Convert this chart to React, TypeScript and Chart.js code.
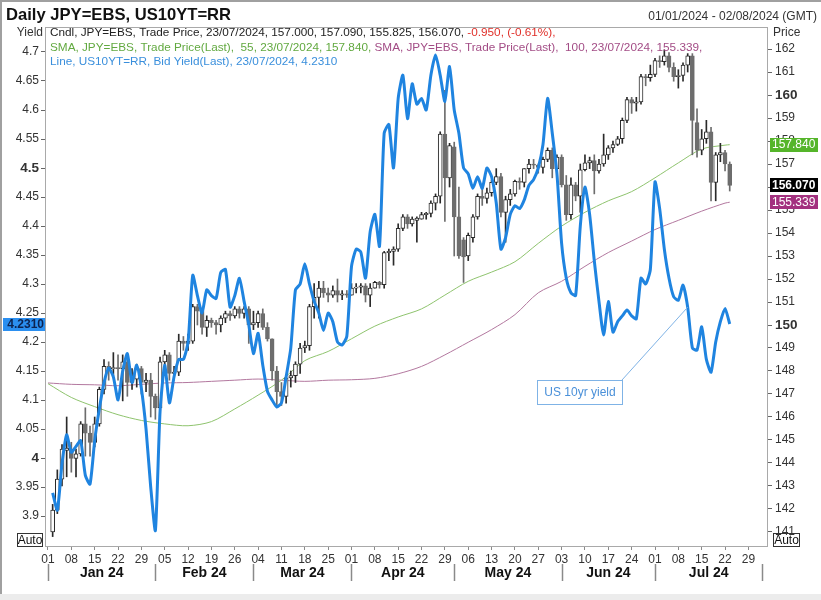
import React, { useEffect, useRef } from "react";
import { Chart, registerables } from "chart.js";
Chart.register(...registerables);

const FONT = "'Liberation Sans', Arial, sans-serif";

// Business-day index 0 = Mon 01 Jan 2024 ... 146 = Tue 23 Jul 2024
const opens = [
  null, 141.0, 141.95, 143.3, 144.55,
  144.6, 144.2, 144.4, 145.7, 145.3,
  144.9, 145.7, 147.2, 148.2, 148.1,
  148.15, 148.1, 148.4, 147.5, 147.65,
  148.1, 147.5, 147.6, 146.9, 146.4,
  148.4, 148.7, 147.9, 147.95, 149.3,
  149.2, 149.3, 150.8, 150.6, 149.9,
  150.2, 150.1, 150.0, 150.3, 150.5,
  150.4, 150.7, 150.5, 150.7, 150.0,
  150.1, 150.5, 149.9, 149.4, 148.0,
  147.1, 146.9, 147.7, 147.8, 148.3,
  149.0, 149.1, 150.8, 151.2, 151.6,
  151.4, 151.3, 151.5, 151.3, 151.35,
  151.3, 151.6, 151.65, 151.7, 151.3,
  151.6, 151.85, 151.75, 153.15, 153.2,
  153.3, 154.2, 154.7, 154.4, 154.55,
  154.6, 154.8, 154.85, 155.3, 155.6,
  158.3, 156.4, 157.75, 154.7, 153.7,
  153.0, 153.8, 154.7, 155.6, 155.5,
  155.75, 156.2, 156.45, 154.9, 155.45,
  155.7, 156.25, 156.2, 156.8, 157.0,
  156.95, 156.85, 157.2, 157.6, 156.8,
  157.3, 156.1, 154.8, 156.1, 155.6,
  156.75, 157.05, 157.15, 156.7, 157.0,
  157.4, 157.7, 157.85, 158.1, 158.9,
  159.8, 159.65, 159.7, 160.8, 160.75,
  160.9, 161.5, 161.45, 161.7, 161.2,
  160.8, 160.85, 161.3, 161.7, 158.8,
  157.6, 158.1, 158.4, 156.2, 157.4,
  157.5, 157.0,
];
const highs = [
  null, 142.2, 143.7, 144.8, 146.0,
  144.9, 144.6, 145.8, 146.4, 145.6,
  146.0, 147.3, 148.5, 148.4, 148.8,
  148.7, 148.7, 148.5, 148.1, 148.3,
  148.2, 147.9, 147.9, 147.0, 148.6,
  148.9, 148.8, 148.2, 149.6, 149.5,
  149.6, 150.9, 150.9, 150.7, 150.4,
  150.3, 150.2, 150.4, 150.6, 150.6,
  150.8, 150.8, 150.8, 150.8, 150.6,
  150.6, 150.7, 150.1, 149.4, 148.2,
  147.5, 147.8, 148.0, 148.4, 149.2,
  149.3, 150.9, 151.8, 151.9, 151.9,
  151.6, 151.7, 152.0, 151.5, 151.5,
  151.8, 151.8, 151.8, 151.8, 151.8,
  151.9, 151.9, 153.2, 153.3, 153.4,
  154.4, 154.8, 154.8, 154.7, 154.7,
  154.9, 154.9, 155.4, 155.7, 158.4,
  160.2, 157.9, 157.95, 156.0, 153.8,
  154.0, 154.8, 155.7, 155.95, 155.95,
  156.3, 156.8, 156.6, 155.6, 155.9,
  156.3, 156.4, 156.8, 157.2, 157.2,
  157.0, 157.3, 157.7, 157.7, 157.4,
  157.4, 156.5, 156.4, 156.2, 157.0,
  157.4, 157.3, 157.4, 157.2, 158.3,
  157.8, 158.0, 158.2, 159.0, 159.9,
  159.9, 159.9, 160.9, 160.9, 161.3,
  161.6, 161.7, 161.95, 161.85, 161.4,
  161.1, 161.4, 161.8, 161.8, 159.4,
  158.5, 158.9, 158.6, 157.5, 157.9,
  157.6, 157.09,
];
const lows = [
  null, 140.8, 141.8, 143.0, 143.4,
  143.6, 143.4, 144.3, 144.3, 144.3,
  144.7, 145.6, 147.0, 147.6, 147.8,
  147.6, 146.7, 146.9, 147.2, 147.3,
  147.0, 147.1, 146.0, 145.9, 145.9,
  148.2, 147.6, 147.6, 147.8, 148.9,
  148.9, 149.2, 150.0, 149.6, 149.5,
  149.9, 149.6, 149.7, 150.1, 150.2,
  150.3, 150.3, 150.3, 149.2, 149.8,
  149.9, 149.8, 149.3, 147.6, 146.5,
  146.5, 146.6, 147.3, 147.5, 147.9,
  148.8, 148.9, 150.3, 150.3, 151.2,
  151.0, 151.2, 151.0, 151.1, 151.2,
  151.3, 151.4, 151.4, 151.0, 150.8,
  151.6, 151.6, 151.6, 152.8, 152.6,
  153.2, 154.1, 154.2, 154.3, 153.6,
  154.6, 154.6, 154.7, 155.0, 155.3,
  154.5, 156.0, 153.0, 152.9, 151.85,
  152.8, 153.6, 154.6, 155.2, 155.3,
  155.6, 156.1, 154.7, 153.6, 155.2,
  155.6, 155.9, 156.0, 156.6, 156.8,
  156.6, 156.6, 157.1, 156.4, 156.4,
  156.0, 154.55, 154.6, 155.4, 154.9,
  156.7, 156.8, 155.7, 156.6, 156.9,
  157.2, 157.5, 157.8, 157.9, 158.8,
  159.2, 159.3, 159.6, 160.4, 160.6,
  160.8, 161.2, 161.3, 161.0, 160.6,
  160.3, 160.6, 161.0, 157.4, 157.3,
  157.4, 157.9, 155.4, 155.4, 157.1,
  156.7, 155.825,
];
const closes = [
  null, 141.95, 143.3, 144.6, 144.65,
  144.2, 144.4, 145.7, 145.3, 144.9,
  145.7, 147.2, 148.2, 148.1, 148.15,
  148.1, 148.4, 147.5, 147.65, 148.1,
  147.5, 147.6, 146.9, 146.4, 148.4,
  148.7, 147.9, 147.95, 149.3, 149.2,
  149.3, 150.8, 150.6, 149.9, 150.2,
  150.1, 150.0, 150.3, 150.5, 150.4,
  150.7, 150.5, 150.7, 150.0, 150.1,
  150.5, 149.9, 149.4, 148.0, 147.1,
  146.9, 147.7, 147.8, 148.3, 149.0,
  149.1, 150.8, 151.2, 151.6, 151.4,
  151.3, 151.5, 151.3, 151.35, 151.3,
  151.6, 151.65, 151.7, 151.3, 151.6,
  151.85, 151.75, 153.15, 153.2, 153.3,
  154.2, 154.7, 154.4, 154.6, 154.65,
  154.8, 154.85, 155.3, 155.6, 158.3,
  156.4, 157.8, 154.7, 153.0, 152.96,
  153.9, 154.7, 155.6, 155.5, 155.75,
  156.2, 156.45, 154.9, 155.45, 155.7,
  156.25, 156.2, 156.8, 157.0, 156.95,
  156.85, 157.2, 157.6, 156.8, 157.3,
  156.1, 154.8, 156.1, 155.6, 156.75,
  157.05, 157.15, 156.7, 157.0, 157.4,
  157.7, 157.85, 158.1, 158.9, 159.8,
  159.65, 159.7, 160.8, 160.75, 160.9,
  161.5, 161.45, 161.7, 161.2, 160.8,
  160.85, 161.3, 161.7, 158.9, 157.6,
  158.1, 158.4, 156.2, 157.4, 157.5,
  157.0, 156.07,
];
const yields = [
  null, 3.94, 3.91, 3.99, 4.04,
  4.01, 4.02, 4.03, 3.97, 3.955,
  4.03, 4.085, 4.13, 4.155, 4.14,
  4.10, 4.15, 4.18, 4.13, 4.16,
  4.12, 4.05, 3.95, 3.875, 4.08,
  4.16, 4.095, 4.14, 4.17, 4.17,
  4.20, 4.315, 4.28, 4.25, 4.29,
  4.28, 4.275, 4.32, 4.325, 4.26,
  4.28, 4.31, 4.27, 4.23, 4.18,
  4.215, 4.16, 4.115, 4.10, 4.088,
  4.095, 4.14, 4.19, 4.29, 4.30,
  4.335, 4.30, 4.27, 4.25, 4.22,
  4.25, 4.235, 4.20, 4.195, 4.21,
  4.33, 4.36, 4.355, 4.31, 4.39,
  4.42, 4.365, 4.56, 4.575, 4.50,
  4.62, 4.66, 4.585, 4.645, 4.61,
  4.62, 4.60, 4.66, 4.695, 4.66,
  4.615, 4.675, 4.60, 4.56, 4.50,
  4.49, 4.465, 4.485, 4.465, 4.50,
  4.485, 4.44, 4.36, 4.38, 4.42,
  4.435, 4.43, 4.445, 4.47, 4.48,
  4.50, 4.54, 4.62, 4.56, 4.49,
  4.37, 4.31, 4.285, 4.28, 4.40,
  4.467, 4.42, 4.34, 4.27, 4.212,
  4.27, 4.217, 4.235, 4.245, 4.255,
  4.245, 4.24, 4.31, 4.30, 4.325,
  4.476, 4.43, 4.36, 4.31, 4.278,
  4.272, 4.298, 4.26, 4.19, 4.186,
  4.226, 4.17, 4.148, 4.20, 4.235,
  4.258, 4.231,
];
const smaIdx = [0, 5, 10, 15, 20, 25, 30, 35, 40, 45, 50, 55, 60, 65, 70, 75, 80, 85, 90, 95, 100, 105, 110, 115, 120, 125, 130, 135, 140, 145, 146];
const sma55 = [147.45, 146.85, 146.45, 146.1, 145.85, 145.7, 145.62, 145.8, 146.35, 146.95, 147.6, 148.45, 148.85, 149.4, 149.95, 150.35, 150.7, 151.3, 151.9, 152.3, 152.75, 153.55, 154.3, 154.9, 155.4, 155.8, 156.4, 157.05, 157.65, 157.82, 157.84];
const sma100 = [147.48, 147.42, 147.4, 147.36, 147.42, 147.48, 147.5, 147.55, 147.6, 147.65, 147.6, 147.55, 147.6, 147.62, 147.68, 147.88, 148.2, 148.7, 149.25, 149.8, 150.45, 151.4, 151.9, 152.55, 153.15, 153.65, 154.15, 154.55, 154.95, 155.3, 155.339];

const weekTickIdx = [0, 5, 10, 15, 20, 25, 30, 35, 40, 45, 50, 55, 60, 65, 70, 75, 80, 85, 90, 95, 100, 105, 110, 115, 120, 125, 130, 135, 140, 145, 150];
const weekTickLabels = ["01", "08", "15", "22", "29", "05", "12", "19", "26", "04", "11", "18", "25", "01", "08", "15", "22", "29", "06", "13", "20", "27", "03", "10", "17", "24", "01", "08", "15", "22", "29"];
const monthLabels = ["Jan 24", "Feb 24", "Mar 24", "Apr 24", "May 24", "Jun 24", "Jul 24"];
const monthStartIdx = [0, 23, 44, 65, 87, 110, 130, 153];
const yieldTicks = [3.9, 3.95, 4, 4.05, 4.1, 4.15, 4.2, 4.25, 4.3, 4.35, 4.4, 4.45, 4.5, 4.55, 4.6, 4.65, 4.7];
const yieldTickLabels = ["3.9", "3.95", "4", "4.05", "4.1", "4.15", "4.2", "4.25", "4.3", "4.35", "4.4", "4.45", "4.5", "4.55", "4.6", "4.65", "4.7"];
const yieldBold = [4, 4.5];
const priceTicks = [141, 142, 143, 144, 145, 146, 147, 148, 149, 150, 151, 152, 153, 154, 155, 156, 157, 158, 159, 160, 161, 162];
const priceTickLabels = priceTicks.map((v) => String(v));
const priceBold = [150, 160];

const LAST_YIELD = 4.231;
const LAST_SMA55 = 157.84;
const LAST_SMA100 = 155.339;
const LAST_CLOSE = 156.07;
const ANNOT_IDX = 137;

const BLUE = "#1f84e0";
const GREEN_LINE = "#8fc46e";
const PURPLE_LINE = "#b3789f";
const DOWN = "#6d6d6d";

function drawSegs(c: CanvasRenderingContext2D, x: number, y: number, segs: [string, string][]) {
  for (const [t, col] of segs) {
    c.fillStyle = col;
    c.fillText(t, x, y);
    x += c.measureText(t).width;
  }
}

function badge(c: CanvasRenderingContext2D, x: number, yc: number, w: number, h: number, bg: string, fg: string, text: string, font: string) {
  c.fillStyle = bg;
  c.fillRect(x, Math.round(yc - h / 2), w, h);
  c.fillStyle = fg;
  c.font = font;
  c.textAlign = "left";
  c.textBaseline = "middle";
  c.fillText(text, x + 2, yc + 0.5);
}

const overlay = {
  id: "overlay",
  beforeDraw(chart: any) {
    const c = chart.ctx;
    c.save();
    c.fillStyle = "#ffffff";
    c.fillRect(0, 0, chart.width, chart.height);
    c.restore();
  },
  afterDraw(chart: any) {
    const c: CanvasRenderingContext2D = chart.ctx;
    const { left, right, top, bottom } = chart.chartArea;
    const xs = chart.scales.x;
    const yl = chart.scales.yL;
    const yr = chart.scales.yR;
    c.save();
    // plot border
    c.strokeStyle = "#a9a9a9";
    c.lineWidth = 1;
    c.strokeRect(left + 0.5, top + 0.5, right - left - 1, bottom - top);

    // title
    c.fillStyle = "#111";
    c.font = `bold 16.6px ${FONT}`;
    c.textAlign = "left";
    c.textBaseline = "middle";
    c.fillText("Daily JPY=EBS, US10YT=RR", 6, 15);
    c.font = `12px ${FONT}`;
    c.textAlign = "right";
    c.fillStyle = "#333";
    c.fillText("01/01/2024 - 02/08/2024 (GMT)", 817, 17);

    // axis titles
    c.font = `12px ${FONT}`;
    c.fillStyle = "#333";
    c.textAlign = "right";
    c.fillText("Yield", 43, 33);
    c.textAlign = "left";
    c.fillText("Price", 773, 33);

    // legend lines
    c.font = `11.75px ${FONT}`;
    c.textAlign = "left";
    drawSegs(c, 50, 33, [
      ["Cndl, JPY=EBS, Trade Price, 23/07/2024, 157.000, 157.090, 155.825, 156.070, ", "#222"],
      ["-0.950, (-0.61%),", "#e0302a"],
    ]);
    drawSegs(c, 50, 48, [
      ["SMA, JPY=EBS, Trade Price(Last),  55, 23/07/2024, 157.840, ", "#62a940"],
      ["SMA, JPY=EBS, Trade Price(Last),  100, 23/07/2024, 155.339,", "#a34d86"],
    ]);
    drawSegs(c, 50, 62, [["Line, US10YT=RR, Bid Yield(Last), 23/07/2024, 4.2310", "#3a8fdc"]]);

    // badges
    const ly = yl.getPixelForValue(LAST_YIELD);
    c.fillStyle = "#2b8ff0";
    c.fillRect(3, Math.round(ly - 6.5), 42, 13);
    c.fillStyle = "#0d2350";
    c.font = `bold 12px ${FONT}`;
    c.textAlign = "right";
    c.textBaseline = "middle";
    c.fillText("4.2310", 44, ly + 0.5);
    badge(c, 770, yr.getPixelForValue(LAST_SMA55), 48, 14, "#55b52a", "#fff", "157.840", `12px ${FONT}`);
    badge(c, 770, yr.getPixelForValue(LAST_CLOSE), 48, 14, "#000", "#fff", "156.070", `bold 12px ${FONT}`);
    badge(c, 770, yr.getPixelForValue(LAST_SMA100), 48, 14, "#a3317f", "#fff", "155.339", `12px ${FONT}`);

    // Auto boxes
    c.strokeStyle = "#333";
    c.lineWidth = 1;
    c.font = `12px ${FONT}`;
    c.fillStyle = "#111";
    c.textAlign = "center";
    c.strokeRect(17.5, 533.5, 25, 13);
    c.fillText("Auto", 30, 540.5);
    c.strokeRect(773.5, 533.5, 26, 13);
    c.fillText("Auto", 786.5, 540.5);

    // month row
    c.strokeStyle = "#8a8a8a";
    c.lineWidth = 1.5;
    const mx = monthStartIdx.map((i) => xs.getPixelForValue(i));
    for (const x of mx) {
      c.beginPath();
      c.moveTo(Math.round(x) + 0.5, 564);
      c.lineTo(Math.round(x) + 0.5, 581);
      c.stroke();
    }
    c.fillStyle = "#111";
    c.font = `bold 14px ${FONT}`;
    c.textAlign = "center";
    for (let k = 0; k < monthLabels.length; k++) {
      c.fillText(monthLabels[k], (mx[k] + mx[k + 1]) / 2, 573);
    }

    // annotation
    const ax = xs.getPixelForValue(ANNOT_IDX);
    const ay = yl.getPixelForValue(yields[ANNOT_IDX] as number);
    c.strokeStyle = "#7fb3e6";
    c.lineWidth = 1;
    c.beginPath();
    c.moveTo(622, 380);
    c.lineTo(ax, ay);
    c.stroke();
    c.fillStyle = "#fff";
    c.fillRect(537, 380, 85, 24);
    c.strokeRect(537.5, 380.5, 85, 24);
    c.fillStyle = "#4a90d9";
    c.font = `12px ${FONT}`;
    c.textAlign = "center";
    c.fillText("US 10yr yield", 580, 392.5);

    // frame
    c.fillStyle = "#a0a0a0";
    c.fillRect(0, 0, chart.width, 2);
    c.fillRect(0, 0, 2, chart.height);
    c.fillStyle = "#ececec";
    c.fillRect(0, 594, chart.width, 6);
    c.restore();
  },
};

export default function App() {
  const ref = useRef<HTMLCanvasElement>(null);
  useEffect(() => {
    const canvas = ref.current!;
    const idx = opens.map((_, i) => i).filter((i) => opens[i] != null);
    const up = (i: number) => (closes[i] as number) >= (opens[i] as number);
    const bodies = idx.map((i) => ({ x: i, y: [Math.min(opens[i] as number, closes[i] as number), Math.max(opens[i] as number, closes[i] as number)] }));
    const wicks = idx.map((i) => ({ x: i, y: [lows[i] as number, highs[i] as number] }));
    const yieldPts = yields.map((v, i) => ({ x: i, y: v })).filter((p) => p.y != null);
    const s55 = smaIdx.map((i, k) => ({ x: i, y: sma55[k] }));
    const s100 = smaIdx.map((i, k) => ({ x: i, y: sma100[k] }));
    const tickFont = (bold: number[]) => (ctx: any) =>
      ctx.tick && bold.includes(ctx.tick.value)
        ? { family: FONT, size: 13.5, weight: "bold" }
        : { family: FONT, size: 12, weight: "normal" };

    const chart = new Chart(canvas, {
      type: "bar",
      data: {
        datasets: [
          {
            type: "line",
            label: "US10Y",
            data: yieldPts as any,
            xAxisID: "x",
            yAxisID: "yL",
            borderColor: BLUE,
            borderWidth: 3,
            pointRadius: 0,
            tension: 0.2,
            order: 0,
          },
          {
            type: "bar",
            label: "body",
            data: bodies as any,
            xAxisID: "x",
            yAxisID: "yR",
            backgroundColor: idx.map((i) => (up(i) ? "#ffffff" : DOWN)),
            borderColor: idx.map((i) => (up(i) ? "#2a2a2a" : DOWN)),
            borderWidth: 1,
            borderSkipped: false,
            barThickness: 4,
            grouped: false,
            order: 1,
          } as any,
          {
            type: "bar",
            label: "wick",
            data: wicks as any,
            xAxisID: "x",
            yAxisID: "yR",
            backgroundColor: idx.map((i) => (up(i) ? "#2a2a2a" : DOWN)),
            borderWidth: 0,
            barThickness: 1,
            grouped: false,
            order: 2,
          } as any,
          {
            type: "line",
            label: "SMA55",
            data: s55 as any,
            xAxisID: "x",
            yAxisID: "yR",
            borderColor: GREEN_LINE,
            borderWidth: 1,
            pointRadius: 0,
            tension: 0.3,
            order: 3,
          },
          {
            type: "line",
            label: "SMA100",
            data: s100 as any,
            xAxisID: "x",
            yAxisID: "yR",
            borderColor: PURPLE_LINE,
            borderWidth: 1,
            pointRadius: 0,
            tension: 0.3,
            order: 4,
          },
        ],
      },
      options: {
        animation: false,
        responsive: false,
        devicePixelRatio: 1,
        events: [],
        layout: { padding: { top: 27, left: 0, right: 0, bottom: 0 } },
        plugins: { legend: { display: false }, tooltip: { enabled: false } },
        scales: {
          x: {
            type: "linear",
            position: "bottom",
            min: -0.64,
            max: 154.2,
            offset: false,
            grid: { display: true, drawOnChartArea: false, drawTicks: true, tickLength: 4, color: "#8a8a8a", offset: false },
            border: { display: false },
            ticks: {
              autoSkip: false,
              maxRotation: 0,
              color: "#333",
              padding: 2,
              font: { family: FONT, size: 12 },
              callback: (_v: any, i: number) => weekTickLabels[i],
            },
            afterBuildTicks: (s: any) => {
              s.ticks = weekTickIdx.map((v) => ({ value: v }));
            },
            afterFit: (s: any) => {
              s.height = 54;
            },
          } as any,
          yL: {
            type: "linear",
            position: "left",
            min: 3.8483,
            max: 4.7431,
            grid: { display: true, drawOnChartArea: false, drawTicks: true, tickLength: 4, color: "#666" },
            border: { display: false },
            ticks: {
              color: "#333",
              padding: 2,
              font: tickFont(yieldBold) as any,
              callback: (_v: any, i: number) => yieldTickLabels[i],
            },
            afterBuildTicks: (s: any) => {
              s.ticks = yieldTicks.map((v) => ({ value: v }));
            },
            afterFit: (s: any) => {
              s.width = 45;
            },
          } as any,
          yR: {
            type: "linear",
            position: "right",
            min: 140.391,
            max: 162.957,
            grid: { display: true, drawOnChartArea: false, drawTicks: true, tickLength: 4, color: "#666" },
            border: { display: false },
            ticks: {
              color: "#333",
              padding: 3,
              font: tickFont(priceBold) as any,
              callback: (_v: any, i: number) => priceTickLabels[i],
            },
            afterBuildTicks: (s: any) => {
              s.ticks = priceTicks.map((v) => ({ value: v }));
            },
            afterFit: (s: any) => {
              s.width = 53;
            },
          } as any,
        },
      },
      plugins: [overlay],
    });
    return () => chart.destroy();
  }, []);
  return (
    <div style={{ position: "absolute", left: 0, top: 0, width: 821, height: 600, background: "#fff" }}>
      <canvas ref={ref} width={821} height={600} style={{ width: 821, height: 600, display: "block" }} />
    </div>
  );
}
